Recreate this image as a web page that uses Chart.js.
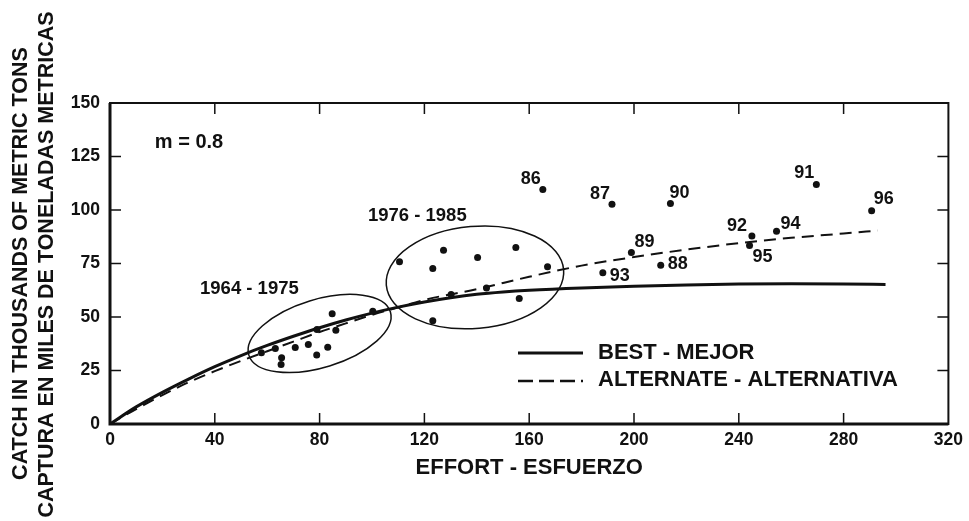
<!DOCTYPE html>
<html><head><meta charset="utf-8">
<script src="https://cdn.jsdelivr.net/npm/chart.js@4/dist/chart.umd.min.js"></script>
<style>html,body{margin:0;padding:0;background:#fff;}#wrap{width:969px;height:521px;}</style>
</head><body><div id="wrap"><canvas id="c" width="969" height="521"></canvas></div>
<script>
// ---- data ----
const xTickValues = [0, 40, 80, 120, 160, 200, 240, 280, 320];
const yTickValues = [0, 25, 50, 75, 100, 125, 150];

const earlyEffort = [57.8, 63.1, 65.5, 65.3, 70.7, 75.7, 78.9, 79.0, 83.1, 84.8, 86.2, 100.3];
const earlyCatch  = [33.3, 35.3, 30.9, 27.8, 35.7, 37.2, 32.3, 44.2, 35.9, 51.5, 43.8, 52.7];

const midEffort = [110.5, 127.3, 123.2, 140.3, 154.9, 167.0, 156.2, 123.2, 143.7, 130.2];
const midCatch  = [75.8, 81.2, 72.7, 77.8, 82.5, 73.5, 58.6, 48.2, 63.5, 60.5];

const recentYears  = ['86', '87', '88', '89', '90', '91', '92', '93', '94', '95', '96'];
const recentEffort = [165.2, 191.6, 210.2, 199.0, 213.9, 269.6, 245.0, 188.1, 254.4, 244.1, 290.7];
const recentCatch  = [109.6, 102.7, 74.2, 80.1, 103.0, 111.9, 87.8, 70.7, 90.1, 83.4, 99.6];

const bestEffort = [0, 10, 20, 30, 40, 50, 60, 70, 80, 90, 100, 110, 120, 130, 140, 150, 160, 180, 200, 220, 240, 260, 280, 296];
const bestCatch  = [0, 8, 14.8, 21, 26.8, 32, 36.7, 41, 45, 48.6, 51.8, 54.6, 57, 59, 60.6, 61.7, 62.5, 63.6, 64.4, 65, 65.4, 65.5, 65.4, 65.2];

const altEffort = [0, 10, 20, 30, 40, 50, 60, 70, 80, 90, 100, 110, 120, 140, 160, 180, 200, 220, 240, 260, 280, 293];
const altCatch  = [0, 7, 13.5, 19.5, 24.7, 29.5, 34, 38.5, 43, 47, 51, 54.5, 58, 63, 68.8, 74, 78, 81.5, 84.5, 87, 89, 90.4];

const seriesNames  = ['BEST - MEJOR', 'ALTERNATE - ALTERNATIVA'];
const periodNames  = ['1964 - 1975', '1976 - 1985'];
const modelNote    = 'm = 0.8';
const xTitle       = 'EFFORT - ESFUERZO';
const yTitleLines  = ['CATCH IN THOUSANDS OF METRIC TONS', 'CAPTURA EN MILES DE TONELADAS METRICAS'];

// ---- helpers ----
const pts = (xs, ys) => xs.map((x, i) => ({x: x, y: ys[i]}));
const FONT = '"Liberation Sans", Arial, Helvetica, sans-serif';
const INK = '#111';

// label placement (pixels, relative to the point) for the year labels
const yearLabelPlacement = [
  ['right', -2, -10], ['right', -2, -10], ['left', 7, -1], ['left', 3, -11],
  ['left', -1, -11], ['right', -2, -12], ['right', -5, -10], ['left', 7, 3],
  ['left', 4, -7], ['left', 3, 12], ['left', 2, -12]
];

const decor = {
  id: 'decor',
  afterDraw(chart) {
    const ctx = chart.ctx, xs = chart.scales.x, ys = chart.scales.y, a = chart.chartArea;
    ctx.save();
    ctx.strokeStyle = INK; ctx.fillStyle = INK;
    // frame
    ctx.lineWidth = 2;
    ctx.strokeRect(a.left, a.top, a.right - a.left, a.bottom - a.top);
    ctx.lineWidth = 3;
    ctx.beginPath(); ctx.moveTo(a.left, a.top); ctx.lineTo(a.left, a.bottom); ctx.lineTo(a.right, a.bottom); ctx.stroke();
    // inward ticks
    ctx.lineWidth = 1.5;
    const TL = 11;
    xs.ticks.forEach(t => {
      if (t.value <= xs.min || t.value >= xs.max) return;
      const p = xs.getPixelForValue(t.value);
      ctx.beginPath();
      ctx.moveTo(p, a.bottom); ctx.lineTo(p, a.bottom - TL);
      ctx.moveTo(p, a.top); ctx.lineTo(p, a.top + TL);
      ctx.stroke();
    });
    ys.ticks.forEach(t => {
      if (t.value <= ys.min || t.value >= ys.max) return;
      const p = ys.getPixelForValue(t.value);
      ctx.beginPath();
      ctx.moveTo(a.left, p); ctx.lineTo(a.left + TL, p);
      ctx.moveTo(a.right, p); ctx.lineTo(a.right - TL, p);
      ctx.stroke();
    });
    // ellipses around periods
    ctx.lineWidth = 1.5;
    const ell = [
      {cx: 80.0, cy: 42.3, rx: 74, ry: 34, rot: -17},
      {cx: 139.3, cy: 68.5, rx: 89, ry: 51, rot: -5}
    ];
    ell.forEach(e => {
      ctx.beginPath();
      ctx.ellipse(xs.getPixelForValue(e.cx), ys.getPixelForValue(e.cy), e.rx, e.ry, e.rot * Math.PI / 180, 0, Math.PI * 2);
      ctx.stroke();
    });
    // period labels
    ctx.font = 'bold 18.5px ' + FONT;
    ctx.textAlign = 'center'; ctx.textBaseline = 'middle';
    ctx.fillText(periodNames[0], xs.getPixelForValue(53.2), ys.getPixelForValue(63.3));
    ctx.fillText(periodNames[1], xs.getPixelForValue(117.3), ys.getPixelForValue(97.4));
    // m note
    ctx.font = 'bold 20px ' + FONT;
    ctx.textAlign = 'left';
    ctx.fillText(modelNote, xs.getPixelForValue(17.1), ys.getPixelForValue(131.5));
    // year labels
    ctx.font = 'bold 18px ' + FONT;
    recentYears.forEach((lab, i) => {
      const pl = yearLabelPlacement[i];
      ctx.textAlign = pl[0];
      ctx.fillText(lab, xs.getPixelForValue(recentEffort[i]) + pl[1], ys.getPixelForValue(recentCatch[i]) + pl[2]);
    });
    // legend
    const lx0 = 518, lx1 = 583, ly0 = 353, ly1 = 381, tx = 598;
    ctx.lineWidth = 3;
    ctx.beginPath(); ctx.moveTo(lx0, ly0); ctx.lineTo(lx1, ly0); ctx.stroke();
    ctx.lineWidth = 2.5;
    ctx.setLineDash([15, 6]);
    ctx.beginPath(); ctx.moveTo(lx0, ly1); ctx.lineTo(lx1, ly1); ctx.stroke();
    ctx.setLineDash([]);
    ctx.font = 'bold 22px ' + FONT;
    ctx.textAlign = 'left';
    ctx.fillText(seriesNames[0], tx, ly0);
    ctx.fillText(seriesNames[1], tx, ly1 - 1);
    // y-axis title (two lines, rotated)
    ctx.font = 'bold 21.5px ' + FONT;
    ctx.textAlign = 'center';
    const cy = (a.top + a.bottom) / 2;
    [21, 47.5].forEach((x, i) => {
      ctx.save();
      ctx.translate(x, cy + i);
      ctx.rotate(-Math.PI / 2);
      ctx.fillText(yTitleLines[i], 0, 0);
      ctx.restore();
    });
    ctx.restore();
  }
};

new Chart(document.getElementById('c'), {
  type: 'scatter',
  data: {
    datasets: [
      {label: seriesNames[0], type: 'line', data: pts(bestEffort, bestCatch), borderColor: INK, borderWidth: 3,
       pointRadius: 0, fill: false, cubicInterpolationMode: 'monotone', order: 2},
      {label: seriesNames[1], type: 'line', data: pts(altEffort, altCatch), borderColor: INK, borderWidth: 2,
       borderDash: [12, 7], pointRadius: 0, fill: false, cubicInterpolationMode: 'monotone', order: 2},
      {label: periodNames[0], data: pts(earlyEffort, earlyCatch), pointRadius: 3.5, backgroundColor: INK, borderColor: INK, borderWidth: 0, order: 1},
      {label: periodNames[1], data: pts(midEffort, midCatch), pointRadius: 3.5, backgroundColor: INK, borderColor: INK, borderWidth: 0, order: 1},
      {label: 'recent', data: pts(recentEffort, recentCatch), pointRadius: 3.5, backgroundColor: INK, borderColor: INK, borderWidth: 0, order: 1}
    ]
  },
  options: {
    responsive: false, animation: false, devicePixelRatio: 1,
    layout: {padding: {top: 103, right: 18, left: 0, bottom: 0}},
    plugins: {legend: {display: false}, tooltip: {enabled: false}},
    scales: {
      x: {
        type: 'linear', min: 0, max: 320,
        afterBuildTicks: s => { s.ticks = xTickValues.map(v => ({value: v})); },
        afterFit: s => { s.height = 97; },
        grid: {display: false, drawTicks: false},
        border: {display: false},
        ticks: {color: INK, font: {family: FONT, size: 17.5, weight: 'bold'}, padding: 6, maxRotation: 0},
        title: {display: true, text: xTitle, color: INK, font: {family: FONT, size: 22, weight: 'bold'}, padding: {top: 0, bottom: 40}}
      },
      y: {
        type: 'linear', min: 0, max: 150,
        afterBuildTicks: s => { s.ticks = yTickValues.map(v => ({value: v})); },
        afterFit: s => { s.width = 110; },
        grid: {display: false, drawTicks: false},
        border: {display: false},
        ticks: {color: INK, font: {family: FONT, size: 17.5, weight: 'bold'}, padding: 10}
      }
    }
  },
  plugins: [decor]
});
</script></body></html>
